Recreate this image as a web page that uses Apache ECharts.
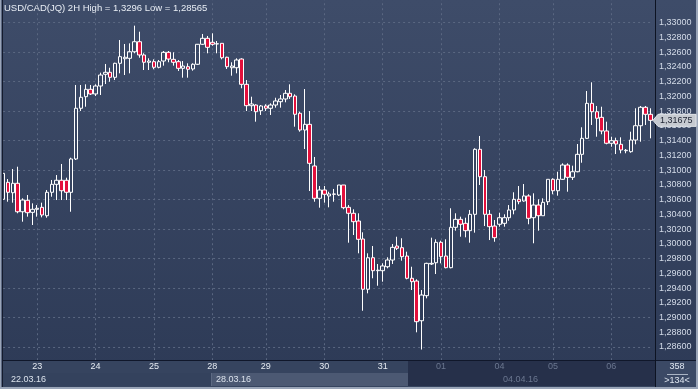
<!DOCTYPE html>
<html>
<head>
<meta charset="utf-8">
<script src="https://cdn.jsdelivr.net/npm/echarts@6/dist/echarts.min.js"></script>
<style>
html,body{margin:0;padding:0;background:#33405c;}
#c{width:698px;height:389px;}
</style>
</head>
<body>
<div id="c"></div>
<script>
const titleText = 'USD/CAD(JQ) 2H High = 1,3296 Low = 1,28565';
const dayStartIdx = [7, 19, 31, 43, 54, 66, 78, 90, 102, 113, 125];
const dayLabels = ['23', '24', '25', '28', '29', '30', '31', '01', '04', '05', '06'];
const weekLabels = ['22.03.16', '28.03.16', '04.04.16'];
const barCountText = '358';
const visibleText = '>134<';

const open = [
1.30604,1.30834,1.30693,1.30821,1.30435,1.30590,1.30427,1.30468,1.30495,1.30381,
1.30699,1.30807,1.30862,1.30862,1.30699,1.31151,1.31839,1.31996,1.32096,1.32033,
1.32141,1.32300,1.32327,1.32259,1.32449,1.32511,1.32517,1.32606,1.32742,1.32562,
1.32463,1.32471,1.32395,1.32480,1.32598,1.32503,1.32471,1.32381,1.32403,1.32372,
1.32436,1.32707,1.32788,1.32734,1.32711,1.32720,1.32531,1.32389,1.32389,1.32507,
1.32164,1.31874,1.31883,1.31806,1.31870,1.31839,1.31883,1.31928,1.31965,1.32042,
1.32005,1.31771,1.31544,1.31621,1.31056,1.30617,1.30730,1.30649,1.30676,1.30662,
1.30798,1.30495,1.30414,1.30309,1.30065,1.29383,1.29811,1.29635,1.29635,1.29689,
1.29780,1.29970,1.29947,1.29834,1.29532,1.29495,1.28956,1.29296,1.29726,1.29743,
1.30020,1.29834,1.29676,1.30224,1.30332,1.30278,1.30178,1.30400,1.31282,1.30910,
1.30400,1.30241,1.30265,1.30278,1.30354,1.30459,1.30604,1.30581,1.30649,1.30354,
1.30526,1.30381,1.30571,1.30875,1.30720,1.30875,1.31069,1.30902,1.30978,1.31214,
1.31431,1.31906,1.31792,1.31716,1.31531,1.31364,1.31399,1.31350,1.31263,1.31250,
1.31408,1.31602,1.31852,1.31757
];
const close = [
1.30956,1.30699,1.30821,1.30435,1.30594,1.30422,1.30468,1.30482,1.30391,1.30699,
1.30807,1.30862,1.30720,1.30699,1.31151,1.31839,1.31988,1.32096,1.32033,1.32141,
1.32290,1.32327,1.32259,1.32449,1.32539,1.32531,1.32606,1.32742,1.32562,1.32463,
1.32480,1.32395,1.32471,1.32598,1.32507,1.32463,1.32381,1.32412,1.32368,1.32436,
1.32707,1.32788,1.32666,1.32707,1.32715,1.32525,1.32403,1.32412,1.32494,1.32164,
1.31874,1.31897,1.31792,1.31870,1.31839,1.31883,1.31938,1.31965,1.32042,1.31996,
1.31757,1.31544,1.31621,1.31092,1.30617,1.30730,1.30672,1.30676,1.30672,1.30798,
1.30490,1.30414,1.30300,1.30061,1.29383,1.29811,1.29635,1.29642,1.29699,1.29780,
1.29952,1.29939,1.29825,1.29532,1.29486,1.28943,1.29305,1.29735,1.29735,1.30020,
1.29825,1.29676,1.30224,1.30332,1.30265,1.30178,1.30400,1.31282,1.30910,1.30400,
1.30232,1.30083,1.30354,1.30354,1.30459,1.30604,1.30571,1.30649,1.30346,1.30526,
1.30381,1.30563,1.30875,1.30720,1.30875,1.31069,1.30902,1.30978,1.31214,1.31431,
1.31906,1.31792,1.31703,1.31531,1.31364,1.31399,1.31354,1.31273,1.31269,1.31408,
1.31602,1.31852,1.31757,1.31675
];
const low = [
1.30594,1.30571,1.30558,1.30414,1.30300,1.30368,1.30255,1.30368,1.30359,1.30354,
1.30639,1.30594,1.30594,1.30594,1.30435,1.31137,1.31802,1.31860,1.32019,1.32005,
1.32019,1.32168,1.32199,1.32222,1.32313,1.32290,1.32313,1.32585,1.32525,1.32358,
1.32358,1.32368,1.32381,1.32417,1.32463,1.32417,1.32345,1.32254,1.32254,1.32349,
1.32426,1.32697,1.32585,1.32688,1.32585,1.32503,1.32372,1.32281,1.32313,1.32110,
1.31802,1.31802,1.31657,1.31748,1.31802,1.31748,1.31847,1.31847,1.31920,1.31965,
1.31589,1.31521,1.31286,1.30716,1.30571,1.30490,1.30558,1.30495,1.30571,1.30649,
1.30468,1.30015,1.30119,1.29871,1.29092,1.29328,1.29532,1.29431,1.29486,1.29667,
1.29726,1.29916,1.29771,1.29518,1.29373,1.28799,1.28565,1.29260,1.29712,1.29590,
1.29735,1.29667,1.29667,1.30178,1.30096,1.30088,1.30015,1.30151,1.30798,1.30241,
1.30051,1.30028,1.30232,1.30232,1.30313,1.30400,1.30536,1.30571,1.30265,1.30007,
1.30178,1.30381,1.30526,1.30672,1.30653,1.30866,1.30707,1.30866,1.30970,1.31100,
1.31422,1.31612,1.31453,1.31486,1.31350,1.31317,1.31218,1.31228,1.31228,1.31236,
1.31350,1.31385,1.31612,1.31431
];
const high = [
1.30974,1.30879,1.31015,1.31046,1.30617,1.30662,1.30549,1.30526,1.30558,1.30730,
1.30866,1.30933,1.31083,1.30897,1.31168,1.32155,1.32155,1.32164,1.32155,1.32164,
1.32322,1.32440,1.32389,1.32457,1.32765,1.32711,1.32720,1.32960,1.32878,1.32585,
1.32517,1.32503,1.32494,1.32616,1.32616,1.32598,1.32494,1.32480,1.32449,1.32449,
1.32711,1.32847,1.32820,1.32856,1.32752,1.32720,1.32539,1.32463,1.32517,1.32517,
1.32222,1.31996,1.31893,1.31883,1.31893,1.31906,1.31982,1.32019,1.32087,1.32164,
1.32028,1.31792,1.32100,1.31802,1.31178,1.30784,1.30784,1.30707,1.30744,1.30798,
1.30798,1.30526,1.30468,1.30414,1.30156,1.29871,1.29970,1.29726,1.29735,1.29817,
1.29997,1.30096,1.30075,1.29893,1.29689,1.29518,1.29373,1.29743,1.30083,1.30061,
1.30042,1.30061,1.30482,1.30414,1.30368,1.30354,1.30459,1.31296,1.31463,1.31001,
1.30459,1.30323,1.30422,1.30400,1.30526,1.30699,1.30784,1.30811,1.30672,1.30685,
1.30604,1.30617,1.30875,1.30889,1.30978,1.31092,1.31092,1.31060,1.31354,1.31581,
1.32073,1.32191,1.31870,1.31860,1.31657,1.31453,1.31440,1.31445,1.31286,1.31521,
1.31839,1.31870,1.31870,1.31839
];

const n = open.length;
const categories = open.map((_, i) => String(i));
const candles = open.map((o, i) => [o, close[i], low[i], high[i]]);
const fmt = v => v.toFixed(5).replace('.', ',');
const isDayStart = i => dayStartIdx.indexOf(i) >= 0;

const FONT = '"Liberation Sans", Arial, sans-serif';
const chart = echarts.init(document.getElementById('c'), null, {renderer: 'canvas'});

const option = {
  animation: false,
  backgroundColor: {
    type: 'linear', x: 0, y: 0, x2: 0, y2: 1,
    colorStops: [{offset: 0, color: '#3e4c69'}, {offset: 1, color: '#2d3a56'}]
  },
  grid: {left: 3.1, right: 47.72, top: -6.78, bottom: 12.54, outerBoundsMode: 'none', containLabel: false},
  xAxis: [{
    type: 'category',
    data: categories,
    boundaryGap: false,
    axisLine: {show: false},
    axisTick: {show: false},
    axisLabel: {show: false},
    splitLine: {
      show: true,
      interval: (i) => isDayStart(i),
      lineStyle: {color: '#5a6781', type: [2, 3], width: 1}
    }
  }, {
    type: 'category',
    data: categories,
    boundaryGap: false,
    position: 'bottom',
    offset: -16.5,
    z: 300,
    axisLine: {show: false},
    axisTick: {show: false},
    splitLine: {show: false},
    axisLabel: {
      interval: (i) => isDayStart(i),
      formatter: (v) => { const k = dayStartIdx.indexOf(Number(v)); return k >= 0 ? dayLabels[k] : ''; },
      color: (v) => (Number(v) >= 88 ? '#6b7790' : '#e6ebf2'),
      fontFamily: FONT, fontSize: 9, margin: 2
    }
  }],
  yAxis: [{
    type: 'value', position: 'right', min: 1.282, max: 1.334, interval: 0.002, offset: 4.7,
    axisLine: {show: true, lineStyle: {color: '#0d1322', width: 1}},
    axisTick: {show: false},
    splitLine: {show: false},
    axisLabel: {
      margin: 4, color: '#d3dbe8', fontFamily: FONT, fontSize: 9,
      formatter: (v) => (v > 1.33001 || v < 1.28599) ? '' : fmt(v)
    }
  }, {
    type: 'value', position: 'right', min: 1.282, max: 1.334, interval: 0.004,
    axisLine: {show: false}, axisTick: {show: false}, axisLabel: {show: false},
    splitLine: {show: true, lineStyle: {color: '#5a6781', type: [2, 3], width: 1}}
  }],
  series: [{
    type: 'candlestick',
    data: candles,
    barWidth: 4,
    clip: false,
    itemStyle: {
      color: 'rgba(0,0,0,0)', color0: '#e3103c',
      borderColor: '#ffffff', borderColor0: '#ffffff', borderColorDoji: '#ffffff', borderWidth: 1
    },
    emphasis: {disabled: true}
  }]
};
chart.setOption(option);

const lastY = chart.convertToPixel({yAxisIndex: 0}, close[n - 1]);
const txt = (x, y, s, fill, align, size) => ({
  type: 'text', x: x, y: y, z: 200, silent: true,
  style: {text: s, fill: fill, font: (size || 9) + 'px ' + FONT, textAlign: align || 'left', textVerticalAlign: 'middle'}
});
const rect = (x, y, w, h, fill, z) => ({type: 'rect', z: z || 150, silent: true, shape: {x: x, y: y, width: w, height: h}, style: {fill: fill}});

chart.setOption({
  graphic: [
    rect(3, 360, 695, 29, '#36445f'),
    rect(3, 360, 652, 1, '#10172a', 160),
    rect(3, 373, 208, 13, '#34425d', 155),
    rect(211, 373, 197, 13, '#4c5973', 155),
    rect(211, 373, 1, 13, '#5d6a83', 156),
    rect(408, 361, 247, 25, '#26304a', 156),
    rect(656, 360, 41, 27, '#3b4965', 156),
    rect(655, 360, 1, 29, '#0d1322', 160),
    rect(656, 360, 41, 1, '#10172a', 160),
    rect(0, 0, 1, 389, '#9aa5b8', 170),
    rect(1, 0, 1, 389, '#5c6882', 170),
    rect(2, 0, 1, 389, '#141b2d', 170),
    rect(696, 0, 2, 389, '#9aa5b8', 170),
    rect(0, 387, 698, 2, '#9aa5b8', 170),
    txt(4, 8, titleText, '#e8edf4', 'left', 9.5),
    txt(11, 380, weekLabels[0], '#dbe2ec'),
    txt(216, 380, weekLabels[1], '#dbe2ec'),
    txt(503, 380, weekLabels[2], '#6b7790'),
    txt(677, 367, barCountText, '#dfe6f0', 'center'),
    rect(667, 374, 21, 1, '#aab4c4', 201),
    txt(677, 381, visibleText, '#dfe6f0', 'center'),
    {type: 'polygon', z: 200, silent: true,
     shape: {points: [[653, lastY], [658, lastY - 6], [696, lastY - 6], [696, lastY + 6], [658, lastY + 6]]},
     style: {fill: '#c6cad1', stroke: '#e2e5ea', lineWidth: 1}},
    txt(660, lastY, fmt(close[n - 1]), '#1c2232')
  ]
});
</script>
</body>
</html>
